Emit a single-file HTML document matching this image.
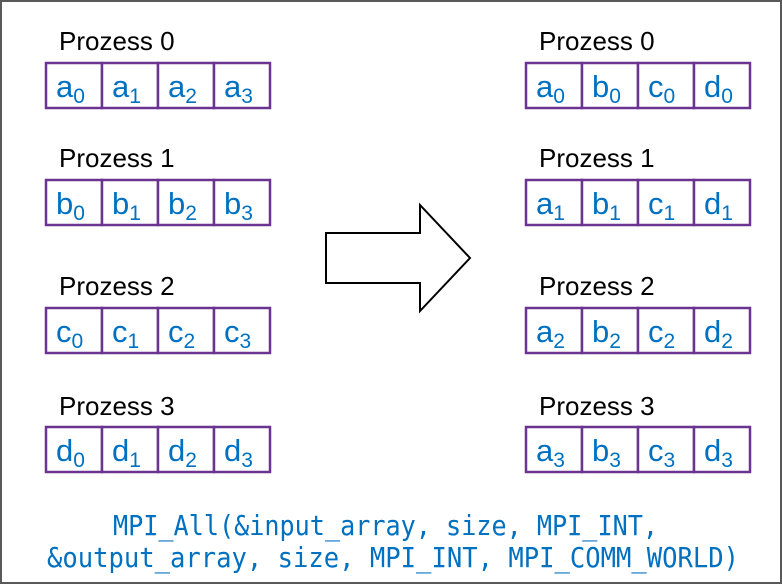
<!DOCTYPE html>
<html><head><meta charset="utf-8"><style>
body{margin:0;background:#fff}
svg{display:block}
</style></head><body>
<svg width="782" height="584" viewBox="0 0 782 584">
<rect x="1" y="1" width="780" height="582" fill="#fff" stroke="#595959" stroke-width="2"/>
<g id="g" font-family="Liberation Sans, sans-serif"></g>
<polygon points="326,233 420,233 420,205 470,258 420,311 420,283 326,283" fill="#fff" stroke="#000" stroke-width="2"/>
<g font-family="DejaVu Sans Mono, Liberation Mono, monospace" font-size="28" fill="#0070c0">
<text x="113" y="535" textLength="545" lengthAdjust="spacingAndGlyphs">MPI_All(&amp;input_array, size, MPI_INT,</text>
<text x="47" y="567" textLength="692" lengthAdjust="spacingAndGlyphs">&amp;output_array, size, MPI_INT, MPI_COMM_WORLD)</text>
</g>
</svg>
<script>
const letters=['a','b','c','d'];
const rowBoxY=[63,180,308,427];
const rowLabelY=[50,167,295,415];
const groupX=[46,526];
const g=document.getElementById('g');
const NS='http://www.w3.org/2000/svg';
function mk(t,a){const e=document.createElementNS(NS,t);for(const k in a)e.setAttribute(k,a[k]);return e;}
groupX.forEach((gx,gi)=>{
 for(let r=0;r<4;r++){
  const lab=mk('text',{x:gx+13,y:rowLabelY[r],'font-size':26,fill:'#000'});
  lab.textContent='Prozess '+r;
  
  
  g.appendChild(lab);
  for(let c=0;c<4;c++){
   const x=gx+c*56,y=rowBoxY[r];
   const rc=mk('rect',{x:x,y:y,width:56,height:45,fill:'#fff',stroke:'#6b3490','stroke-width':2.5});
   
   
   g.appendChild(rc);
   const L=gi===0?letters[r]:letters[c];
   const S=gi===0?c:r;
   const t=mk('text',{x:x+10,y:y+34,'font-size':31,fill:'#0070c0'});
   
   
   t.textContent=L;
   const s=mk('tspan',{'font-size':21,dy:6});
   s.textContent=S;
   t.appendChild(s);
   g.appendChild(t);
  }
 }
});
</script>
</body></html>
